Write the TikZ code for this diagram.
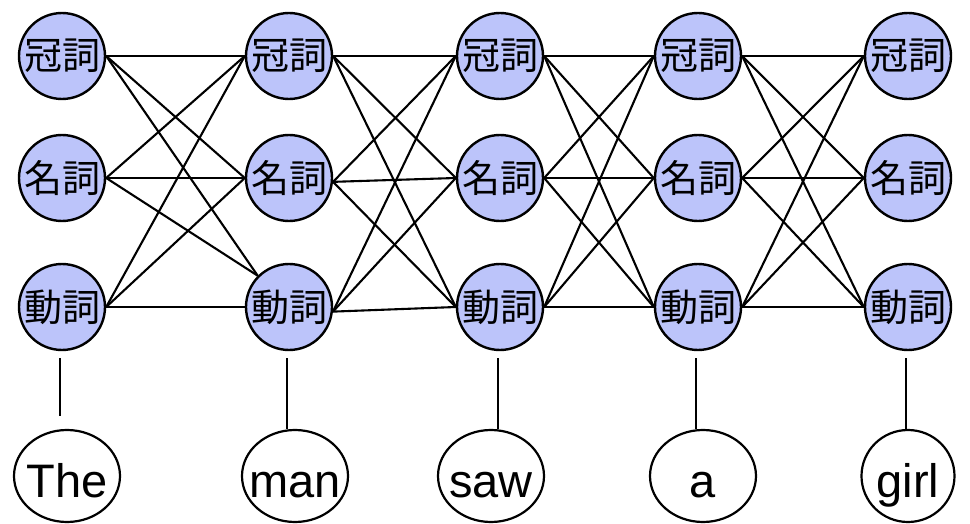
\documentclass[tikz,border=0pt]{standalone}
\usepackage{fontspec}
\setmainfont{Liberation Sans}
\newfontfamily\jpfont{Noto Sans CJK JP}
\usetikzlibrary{shapes.geometric}
\definecolor{tagfill}{RGB}{188,196,250}
% zero-width word so the ellipse keeps its set size
\newcommand\wordlabel[1]{\makebox[0pt]{#1}}
\begin{document}
\begin{tikzpicture}[x=1pt,y=-1pt,
  tag/.style={circle,draw=black,line width=2.4pt,fill=tagfill,minimum size=86pt,
    inner sep=0pt,font=\jpfont\fontsize{38}{38}\selectfont},
  word/.style={ellipse,draw=black,line width=2.2pt,fill=white,minimum width=106pt,
    minimum height=92pt,inner sep=0pt,text height=42pt,text depth=0pt,
    font=\fontsize{47}{47}\selectfont},
  link/.style={line width=2.1pt}]
\useasboundingbox (0,0) rectangle (970,524);

% lattice of part-of-speech states, one column per word
\foreach \i/\x in {1/62,2/289,3/500,4/698,5/908}{
  \node[tag] (a\i) at (\x,56)  {冠詞};
  \node[tag] (n\i) at (\x,178) {名詞};
  \node[tag] (v\i) at (\x,307) {動詞};
}

% observed words
\node[word] (w1) at (67,476)  {\wordlabel{The}};
\node[word] (w2) at (295,476) {\wordlabel{man}};
\node[word] (w3) at (491,476) {\wordlabel{saw}};
\node[word] (w4) at (703,476) {\wordlabel{a}};
\node[word,minimum width=93pt] (w5) at (908,476) {\wordlabel{girl}};

% transitions between adjacent columns
\foreach \s in {a,n,v}{
  \draw[link] (\s1.east) -- (a2.west);
  \draw[link] (\s1.east) -- (n2.west);
}
\draw[link] (a1.east) -- (v2.north west);
\draw[link] (n1.east) -- (v2.north west);
\draw[link] (v1.east) -- (v2.west);

\foreach \t in {a,n,v}{
  \draw[link] (a2.east) -- (\t3.west);
  \draw[link] (n2.-5)  -- (\t3.west);
  \draw[link] (v2.-6)  -- (\t3.west);
}

\foreach \i/\j in {3/4,4/5}{
  \foreach \s in {a,n,v}{
    \foreach \t in {a,n,v}{
      \draw[link] (\s\i.east) -- (\t\j.west);
    }
  }
}

% emissions from the verb states down to the words
\draw[link] ([xshift=-2pt,yshift=-7pt]v1.south) -- ([xshift=-2pt,yshift=-65pt]v1.south);
\foreach \i in {2,3,4,5}{
  \draw[link] ([xshift=-2pt,yshift=-7pt]v\i.south) -- ([xshift=-2pt]v\i.south |- w\i.north);
}
\end{tikzpicture}
\end{document}
